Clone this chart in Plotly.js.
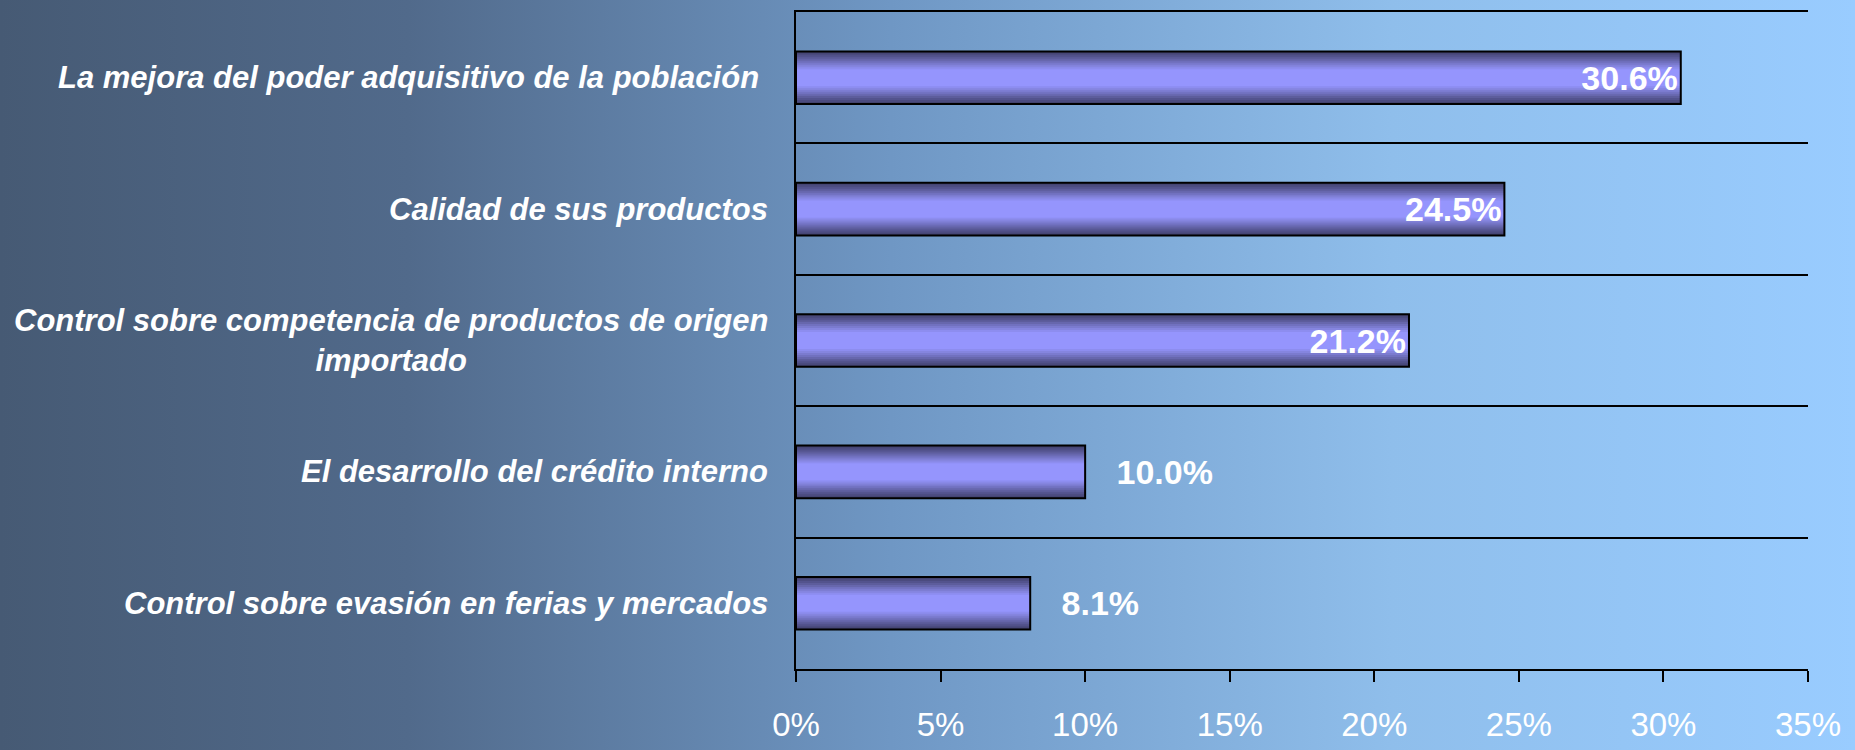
<!DOCTYPE html>
<html>
<head>
<meta charset="utf-8">
<script src="https://cdn.plot.ly/plotly-3.0.1.min.js"></script>
<style>
  html, body { margin: 0; padding: 0; }
  #chart {
    width: 1855px; height: 750px;
    background: linear-gradient(to right, #465a74 0%, #516a8b 22%, #6f97c4 48%, #8fbeeb 75%, #99ccff 100%);
  }
</style>
</head>
<body>
<div id="chart"></div>
<script>
// ---- data ----
const categories = [
  "La mejora del poder adquisitivo de la población\u00a0",
  "Calidad de sus productos",
  "Control sobre competencia de productos de origen<br>importado",
  "El desarrollo del crédito interno",
  "Control sobre evasión en ferias y mercados"
];
const values = [30.6, 24.5, 21.2, 10.0, 8.1];
const labelPositions = ["inside", "inside", "inside", "outside", "outside"];
const xTickValues = [0, 5, 10, 15, 20, 25, 30, 35];

// ---- styling helpers ----
const FONT = "Liberation Sans, Arial, sans-serif";
const layerWidths = [0.40, 0.37, 0.34, 0.31, 0.28, 0.25, 0.22, 0.19, 0.16, 0.13];
const layerColors = ["#43436f", "#4b4b7f", "#53538d", "#5d5d9c", "#6767ad", "#7171bf", "#7b7bcf", "#8585df", "#8d8def", "#9595fd"];

const traces = layerWidths.map((w, k) => ({
  type: "bar",
  orientation: "h",
  x: values,
  y: categories,
  width: w,
  marker: { color: layerColors[k], line: { width: 0 } },
  hoverinfo: "skip",
  showlegend: false
}));

// outline + labels on top
traces.push({
  type: "bar",
  orientation: "h",
  x: values,
  y: categories,
  width: 0.40,
  marker: { color: "rgba(0,0,0,0)", line: { color: "#000000", width: 2 } },
  text: values.map((v, i) => (labelPositions[i] === "outside" ? "\u00a0\u00a0\u00a0" : "") + v.toFixed(1) + "%"),
  textposition: labelPositions,
  insidetextanchor: "end",
  textangle: 0,
  constraintext: "none",
  cliponaxis: false,
  textfont: { family: FONT, size: 34, color: "#ffffff", weight: "bold" },
  hoverinfo: "skip",
  showlegend: false
});

const annotations = categories.map(c => ({
  xref: "paper", yref: "y",
  x: 0, y: c,
  xanchor: "right", yanchor: "middle",
  xshift: -26,
  align: "center",
  text: c,
  showarrow: false,
  font: { family: FONT, size: 31, color: "#ffffff", weight: "bold", style: "italic" }
}));

const layout = {
  width: 1855, height: 750,
  paper_bgcolor: "rgba(0,0,0,0)",
  plot_bgcolor: "rgba(0,0,0,0)",
  margin: { l: 796, r: 47, t: 12, b: 81, pad: 0 },
  barmode: "overlay",
  xaxis: {
    range: [0, 35],
    tickvals: xTickValues,
    ticktext: xTickValues.map(v => v + "%"),
    showgrid: false, zeroline: false,
    showline: true, mirror: true, linecolor: "#000000", linewidth: 2,
    ticks: "outside", ticklen: 11, tickwidth: 2, tickcolor: "#000000",
    ticklabelstandoff: 14,
    tickfont: { family: FONT, size: 33, color: "#ffffff" }
  },
  yaxis: {
    type: "category",
    categoryorder: "array",
    categoryarray: categories,
    range: [4.5, -0.5],
    tickson: "boundaries",
    showgrid: true, gridcolor: "#000000", gridwidth: 2,
    zeroline: false,
    showline: true, linecolor: "#000000", linewidth: 2,
    ticks: "", showticklabels: false
  },
  annotations: annotations,
  font: { family: FONT }
};

Plotly.newPlot("chart", traces, layout, { displayModeBar: false, staticPlot: true });
</script>
</body>
</html>
